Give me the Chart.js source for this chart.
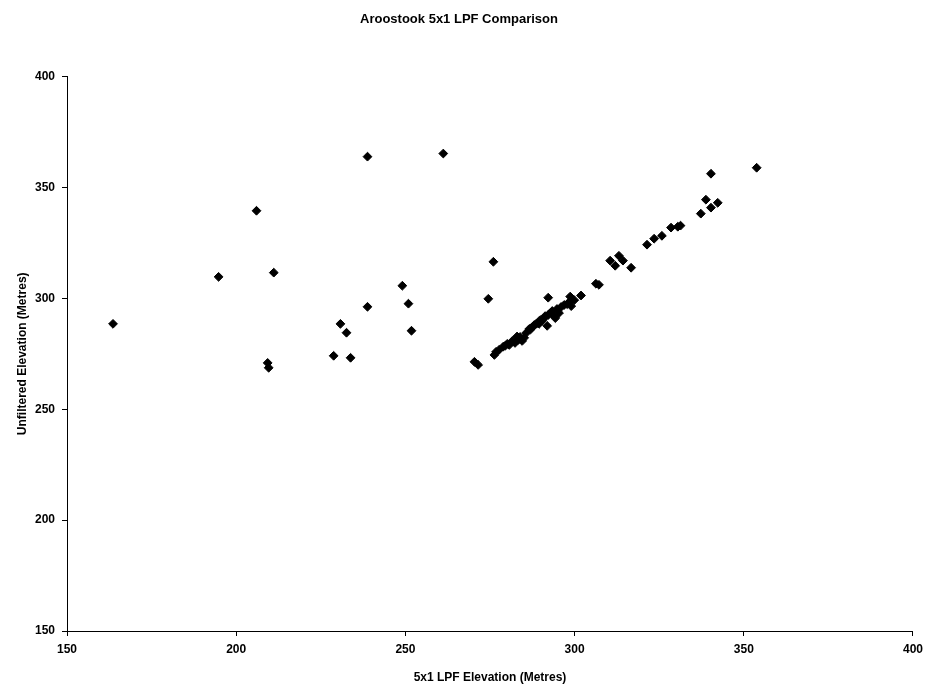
<!DOCTYPE html>
<html>
<head>
<meta charset="utf-8">
<script src="https://cdn.jsdelivr.net/npm/chart.js@4.4.1/dist/chart.umd.min.js"></script>
<style>
  html, body { margin: 0; padding: 0; background: #fff; }
  #wrap { width: 929px; height: 687px; }
</style>
</head>
<body>
<div id="wrap"><canvas id="c" width="929" height="687"></canvas></div>
<script>
const chartTitle = "Aroostook 5x1 LPF Comparison";
const xAxisTitle = "5x1 LPF Elevation (Metres)";
const yAxisTitle = "Unfiltered Elevation (Metres)";
const axisMin = 150;
const axisMax = 400;
const axisStep = 50;

// 5x1 LPF elevation (x) and unfiltered elevation (y)
const lpfElevation = [
  163.6, 194.8, 206.0, 211.1, 209.3, 209.6, 228.8, 230.8, 232.6, 233.8,
  238.8, 238.8, 249.1, 250.9, 251.8, 261.2, 276.0, 274.5, 270.4, 271.5,
  276.3, 276.8, 277.7, 278.9, 280.1, 280.7, 281.6, 282.4, 283.3, 283.9,
  284.5, 285.1, 285.7, 286.6, 287.5, 288.1, 288.6, 289.2, 289.8, 290.7,
  291.3, 292.2, 292.8, 293.4, 294.0, 294.8, 295.4, 296.0, 296.9, 297.8,
  298.4, 299.0, 299.9, 298.7, 301.9, 306.3, 307.2, 291.9, 292.2, 289.5,
  294.3, 290.4, 287.0, 283.0, 279.5,
  310.5, 312.0, 313.1, 314.3, 316.7, 321.4, 323.5, 325.8, 328.5, 330.5,
  331.3, 337.3, 338.8, 340.3, 342.3, 340.3, 353.8
];
const unfilteredElevation = [
  288.5, 309.7, 339.5, 311.6, 270.9, 268.7, 274.1, 288.5, 284.5, 273.2,
  363.9, 296.2, 305.7, 297.6, 285.4, 365.3, 316.5, 299.8, 271.4, 270.0,
  274.5, 275.9, 276.8, 278.2, 279.5, 279.0, 280.8, 279.9, 281.2, 282.6,
  280.8, 282.2, 284.4, 286.2, 287.1, 288.0, 288.4, 288.9, 290.2, 290.7,
  292.0, 292.5, 293.4, 294.3, 292.0, 295.2, 293.4, 296.1, 297.0, 297.4,
  298.3, 296.5, 299.2, 300.8, 301.3, 306.6, 306.1, 287.6, 300.3, 288.5,
  291.1, 289.9, 286.0, 282.8, 278.6,
  317.0, 314.7, 319.2, 317.0, 313.8, 324.2, 326.9, 328.2, 331.9, 332.3,
  332.8, 338.2, 344.5, 340.9, 343.1, 356.2, 358.9
];

const points = lpfElevation.map((x, i) => ({ x: x, y: unfilteredElevation[i] }));

const fontFamily = "'Liberation Sans Narrow', 'Liberation Sans', Arial, sans-serif";

new Chart(document.getElementById('c'), {
  type: 'scatter',
  data: {
    datasets: [{
      label: 'Elevation',
      data: points,
      pointStyle: 'rectRot',
      pointRadius: 4.4,
      pointBorderWidth: 1,
      backgroundColor: '#000',
      borderColor: '#000'
    }]
  },
  options: {
    responsive: false,
    animation: false,
    devicePixelRatio: 1,
    layout: { padding: { top: 0, right: 11, bottom: 0, left: 0 } },
    plugins: {
      legend: { display: false },
      tooltip: { enabled: false },
      title: {
        display: true,
        text: chartTitle,
        color: '#000',
        font: { family: fontFamily, size: 13, weight: 'bold' },
        padding: { top: 12, bottom: 49 }
      }
    },
    scales: {
      x: {
        type: 'linear',
        min: axisMin,
        max: axisMax,
        ticks: {
          stepSize: axisStep,
          color: '#000',
          padding: 6,
          maxRotation: 0,
          font: { family: fontFamily, size: 12, weight: 'bold' }
        },
        grid: { display: true, drawOnChartArea: false, drawTicks: true, tickLength: 5, color: '#000' },
        border: { display: true, color: '#000', width: 1 },
        title: {
          display: true,
          text: xAxisTitle,
          color: '#000',
          font: { family: fontFamily, size: 12, weight: 'bold' },
          padding: { top: 0, bottom: 2 }
        },
        afterFit: (s) => { s.height = 56; }
      },
      y: {
        type: 'linear',
        min: axisMin,
        max: axisMax,
        ticks: {
          stepSize: axisStep,
          color: '#000',
          padding: 7,
          font: { family: fontFamily, size: 12, weight: 'bold' }
        },
        grid: { display: true, drawOnChartArea: false, drawTicks: true, tickLength: 5, color: '#000' },
        border: { display: true, color: '#000', width: 1 },
        title: {
          display: true,
          text: yAxisTitle,
          color: '#000',
          font: { family: fontFamily, size: 12, weight: 'bold' },
          padding: { top: 15, bottom: 0 }
        },
        afterFit: (s) => { s.width = 67; }
      }
    }
  }
});
</script>
</body>
</html>
